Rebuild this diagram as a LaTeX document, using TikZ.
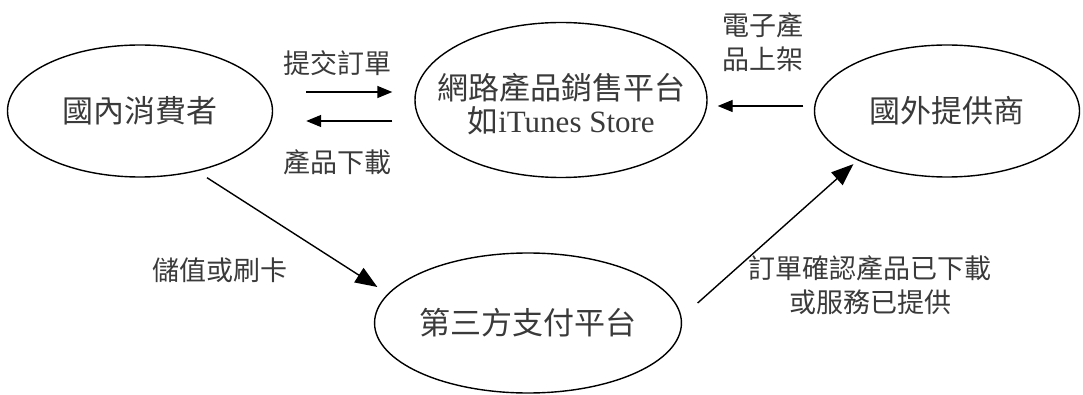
\documentclass[tikz,border=0pt]{standalone}
\usepackage{fontspec}
\setmainfont{Liberation Serif}
\newfontfamily\cjk{Noto Sans CJK TC}
\usetikzlibrary{shapes.geometric,arrows.meta}
\definecolor{txt}{HTML}{3A3A3A}
\tikzset{
  oval/.style={ellipse, draw=black, line width=1.4pt, inner sep=0pt, text=txt,
    font=\fontsize{31}{33}\selectfont\cjk, align=center},
  lbl/.style={text=txt, font=\fontsize{27}{34}\selectfont\cjk, align=center, inner sep=0pt},
  harr/.style={line width=1.4pt, -{Triangle[length=15pt,width=12pt]}},
  darr/.style={line width=1.4pt, -{Triangle[length=22pt,width=17pt]}}
}
\begin{document}
\begin{tikzpicture}[x=1pt,y=-1pt]
\useasboundingbox (0,0) rectangle (1083,395);
\node[oval, minimum width=265pt, minimum height=132pt] (A) at (140,111) {\raisebox{-3pt}{國內消費者}};
\node[oval, minimum width=292pt, minimum height=155pt] (B) at (561,100) {};
\node[oval, draw=none, minimum size=0pt] (Bt) at (561,104.5) {網路產品銷售平台\\如{\rmfamily iTunes Store}};
\node[oval, minimum width=265pt, minimum height=132pt] (C) at (947,111) {\raisebox{2pt}{國外提供商}};
\node[oval, minimum width=289pt, minimum height=140pt] (D) at (528,323) {第三方支付平台};

\draw[harr] ([xshift=33pt,yshift=19pt]A.east) -- ([xshift=-22pt,yshift=8pt]B.west);
\draw[harr] ([xshift=-22pt,yshift=-21pt]B.west) -- ([xshift=33pt,yshift=-10pt]A.east);
\draw[harr] ([xshift=-10.5pt,yshift=5pt]C.west) -- ([xshift=10pt,yshift=-6pt]B.east);
\draw[darr] ([xshift=67pt]A.south) -- ([xshift=3.5pt,yshift=36pt]D.west);
\draw[darr] ([xshift=15.5pt,yshift=20pt]D.east) -- ([xshift=0.5pt,yshift=-6pt]C.south west);

\node[lbl] (l1) at (337,63) {提交訂單};
\node[lbl] (l2) at (337,162) {產品下載};
\node[lbl] (l3) at (763,42.5) {電子產\\品上架};
\node[lbl] (l4) at (220,270) {儲值或刷卡};
\node[lbl] (l5) at (870,285) {訂單確認產品已下載\\或服務已提供};
\end{tikzpicture}
\end{document}
